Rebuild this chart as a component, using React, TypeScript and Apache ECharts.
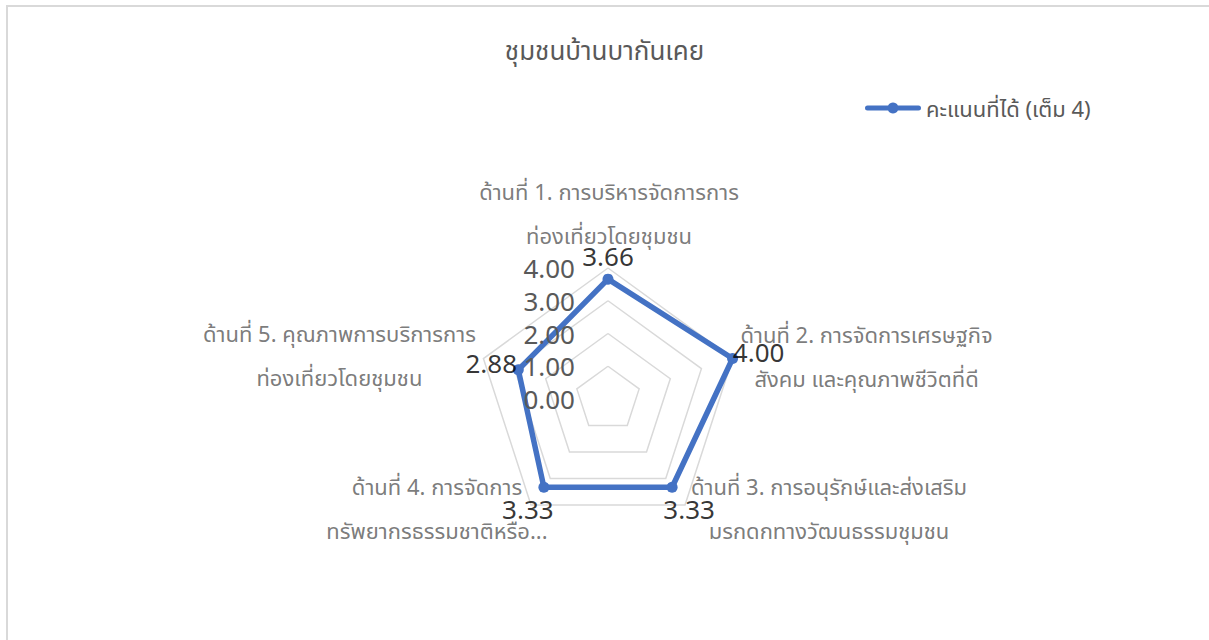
import React, { useEffect, useRef } from "react";
import * as echarts from "echarts";

const chartTitle = "ชุมชนบ้านบากันเคย";
const seriesName = "คะแนนที่ได้ (เต็ม 4)";
const indicatorNames = [
  "ด้านที่ 1. การบริหารจัดการการ\nท่องเที่ยวโดยชุมชน",
  "ด้านที่ 2. การจัดการเศรษฐกิจ\nสังคม และคุณภาพชีวิตที่ดี",
  "ด้านที่ 3. การอนุรักษ์และส่งเสริม\nมรกดกทางวัฒนธรรมชุมชน",
  "ด้านที่ 4. การจัดการ\nทรัพยากรธรรมชาติหรือ...",
  "ด้านที่ 5. คุณภาพการบริการการ\nท่องเที่ยวโดยชุมชน",
];
const scores = [3.66, 4.0, 3.33, 3.33, 2.88];
const scaleMin = 0;
const scaleMax = 4;
const scaleStep = 1;

const FONT = "'Noto Sans', 'Noto Sans Thai', 'DejaVu Sans', sans-serif";
const LINE_COLOR = "#4472C4";
const TEXT_GRAY = "#595959";
const CENTER = [608, 399];
const RADIUS = 131;

// label placement offsets (styling only)
const valueLabelOffsets = [
  [0, -23],
  [26, -7],
  [17, 22],
  [-16, 22],
  [-27, -7],
];
const nameOffsets = [
  [1, -55],
  [134, -3],
  [144, 3],
  [-94, 3],
  [-144, -4],
];

export default function App() {
  const ref = useRef<HTMLDivElement>(null);

  useEffect(() => {
    if (!ref.current) return;
    const chart = echarts.init(ref.current, undefined, { renderer: "svg" });
    const n = indicatorNames.length;
    // ECharts radar runs counter-clockwise; reorder so indicators appear clockwise
    const order = [0, ...Array.from({ length: n - 1 }, (_, k) => n - 1 - k)];
    const angleOf = (i: number) => (i * 360) / n;

    chart.setOption({
      animation: false,
      backgroundColor: "transparent",
      title: {
        text: chartTitle,
        left: "center",
        top: 32,
        textStyle: {
          color: TEXT_GRAY,
          fontSize: 26,
          fontWeight: "normal",
          fontFamily: FONT,
        },
      },
      legend: {
        left: 860,
        top: 92,
        itemWidth: 56,
        itemHeight: 11,
        data: [
          {
            name: seriesName,
            icon: "path://M2.5,3 L53.5,3 A2.5,2.5 0 0 1 53.5,8 L2.5,8 A2.5,2.5 0 0 1 2.5,3 Z M28,0 A5.5,5.5 0 1 1 27.99,0 Z",
          },
        ],
        textStyle: { color: TEXT_GRAY, fontSize: 22, fontFamily: FONT },
      },
      radar: {
        center: CENTER,
        radius: RADIUS,
        startAngle: 90,
        splitNumber: (scaleMax - scaleMin) / scaleStep,
        shape: "polygon",
        indicator: order.map((i) => ({
          name: indicatorNames[i],
          min: scaleMin,
          max: scaleMax,
        })),
        axisName: { show: false },
        axisLine: { show: false },
        axisTick: { show: false },
        axisLabel: { show: false },
        splitLine: { lineStyle: { color: "#d9d9d9", width: 1.5 } },
        splitArea: { show: false },
      },
      polar: { center: CENTER, radius: RADIUS },
      angleAxis: {
        type: "value",
        min: 0,
        max: 360,
        startAngle: 90,
        clockwise: true,
        show: false,
      },
      radiusAxis: {
        type: "value",
        min: scaleMin,
        max: scaleMax,
        interval: scaleStep,
        z: 10,
        axisLine: { show: false },
        axisTick: { show: false },
        splitLine: { show: false },
        axisLabel: {
          formatter: (v: number) => v.toFixed(2),
          fontSize: 26,
          color: TEXT_GRAY,
          fontFamily: FONT,
          margin: 33,
        },
      },
      series: [
        {
          type: "radar",
          name: seriesName,
          z: 3,
          symbol: "circle",
          symbolSize: 11,
          lineStyle: { color: LINE_COLOR, width: 5.5 },
          itemStyle: { color: LINE_COLOR },
          data: [{ name: seriesName, value: order.map((i) => scores[i]) }],
        },
        {
          type: "scatter",
          coordinateSystem: "polar",
          silent: true,
          z: 6,
          symbolSize: 0,
          label: {
            show: true,
            position: "inside",
            color: "#000000",
            fontSize: 26,
            fontFamily: FONT,
            formatter: (p: any) => Number(p.value[0]).toFixed(2),
          },
          data: scores.map((v, i) => ({
            value: [v, angleOf(i)],
            label: { offset: valueLabelOffsets[i] },
          })),
        },
        {
          type: "scatter",
          coordinateSystem: "polar",
          silent: true,
          z: 4,
          symbolSize: 0,
          label: {
            show: true,
            position: "inside",
            align: "center",
            verticalAlign: "middle",
            color: TEXT_GRAY,
            fontSize: 22,
            lineHeight: 44,
            fontFamily: FONT,
            formatter: "{b}",
          },
          data: indicatorNames.map((nm, i) => ({
            name: nm,
            value: [scaleMax, angleOf(i)],
            label: { offset: nameOffsets[i] },
          })),
        },
      ],
    });

    return () => chart.dispose();
  }, []);

  return (
    <div
      style={{
        position: "fixed",
        left: 0,
        top: 0,
        width: 1209,
        height: 640,
        overflow: "hidden",
        background: "#ffffff",
      }}
    >
      <div
        ref={ref}
        style={{ position: "absolute", left: 0, top: 0, width: 1209, height: 640 }}
      />
      <div
        style={{
          position: "absolute",
          left: 6,
          top: 5,
          width: 1203,
          height: 2,
          background: "#d9d9d9",
          pointerEvents: "none",
        }}
      />
      <div
        style={{
          position: "absolute",
          left: 6,
          top: 5,
          width: 2,
          height: 635,
          background: "#d9d9d9",
          pointerEvents: "none",
        }}
      />
    </div>
  );
}
